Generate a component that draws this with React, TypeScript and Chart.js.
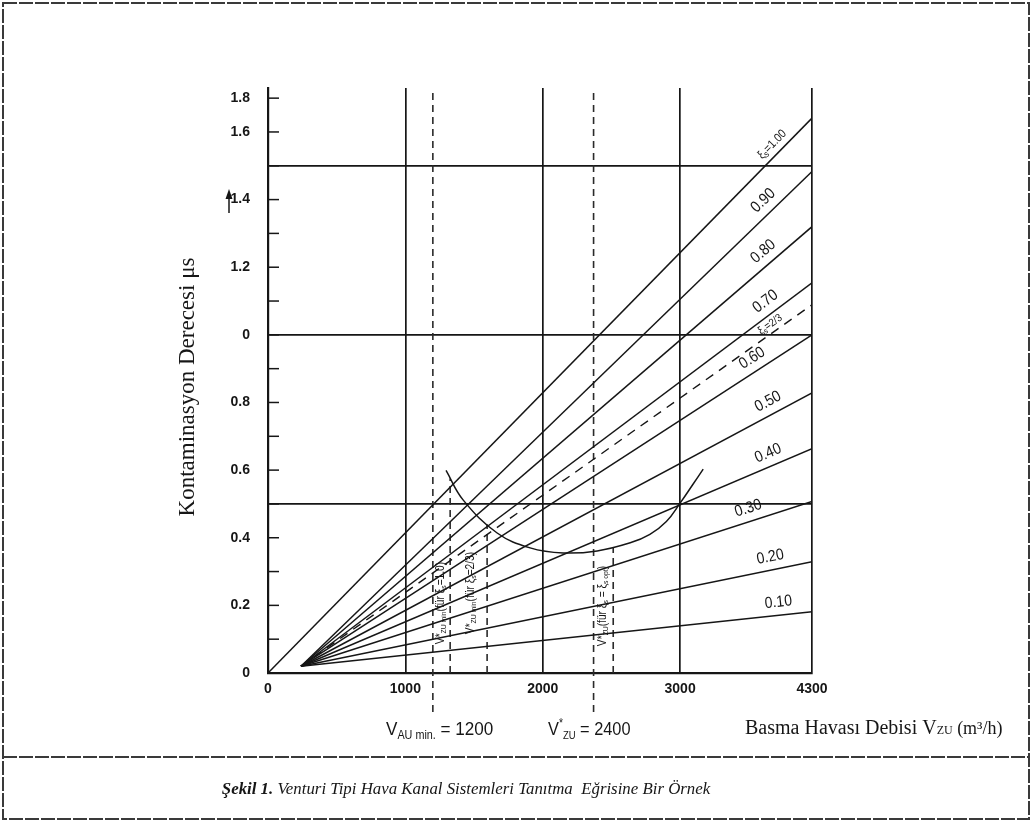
import React, { useEffect, useRef } from "react";
import { Chart, registerables } from "chart.js";
Chart.register(...registerables);

// ---------- data ----------
const X_MAX = 3960;
const Y_MAX = 1.73;

const xTickValues = [0, 1000, 2000, 3000, 3960];
const xTickLabels = ["0", "1000", "2000", "3000", "4300"];
const xGridValues = [1000, 2000, 3000, 3960];

const yTickValues = [0, 0.1, 0.2, 0.3, 0.4, 0.5, 0.6, 0.7, 0.8, 0.9, 1.0, 1.1, 1.2, 1.3, 1.4, 1.5, 1.6, 1.7];
const yTickLabels = ["0", "", "0.2", "", "0.4", "", "0.6", "", "0.8", "", "0", "", "1.2", "", "1.4", "", "1.6", "1.8"];
const yGridValues = [0.5, 1.0, 1.5];

// ξs lines (solid)
const xiNames = ["1.00", "0.90", "0.80", "0.70", "0.60", "0.50", "0.40", "0.30", "0.20", "0.10"];
const lineStartX = [0, 240, 240, 240, 240, 240, 240, 240, 240, 240];
const lineStartY = [0, 0.02, 0.02, 0.02, 0.02, 0.02, 0.02, 0.02, 0.02, 0.02];
const lineEndY = [1.641, 1.483, 1.32, 1.154, 1.0, 0.828, 0.663, 0.507, 0.329, 0.181];
const lineLabelX = [3722, 3671, 3667, 3678, 3576, 3685, 3678, 3525, 3675, 3725];

// ξs = 2/3 (dashed)
const xiOptStart = [240, 0.02];
const xiOptEndY = 1.089;
const xiOptLabelX = 3689;

// optimum curve
const curveX = [1296, 1420, 1668, 1908, 2149, 2396, 2637, 2780, 2900, 3001, 3090, 3168];
const curveY = [0.599, 0.512, 0.414, 0.37, 0.355, 0.361, 0.385, 0.41, 0.448, 0.503, 0.556, 0.603];

// vertical dashed reference lines
const refX = [1200, 2370];
const refBottomY = -0.115;
const shortRefX = [1326, 1595, 2513];
const shortRefTopY = [0.575, 0.44, 0.37];

// ---------- drawing helpers ----------
const SANS = "'Liberation Sans Narrow', 'Arial Narrow', 'Liberation Sans', Arial, sans-serif";
const SERIF = "'Liberation Serif', 'Times New Roman', serif";
const INK = "#161616";

type Part = { t: string; size: number; dy?: number; weight?: string; style?: string; family?: string };

function drawRich(
  ctx: CanvasRenderingContext2D,
  x: number,
  y: number,
  angle: number,
  parts: Part[],
  align: "left" | "center",
  baseline: CanvasTextBaseline,
  family: string,
  hscale = 1
) {
  ctx.save();
  ctx.translate(x, y);
  ctx.rotate(angle);
  ctx.scale(hscale, 1);
  ctx.textBaseline = baseline;
  ctx.textAlign = "left";
  ctx.fillStyle = INK;
  const fontOf = (p: Part) => `${p.style || "normal"} ${p.weight || "normal"} ${p.size}px ${p.family || family}`;
  let w = 0;
  for (const p of parts) {
    ctx.font = fontOf(p);
    w += ctx.measureText(p.t).width;
  }
  let cx = align === "center" ? -w / 2 : 0;
  for (const p of parts) {
    ctx.font = fontOf(p);
    ctx.fillText(p.t, cx, p.dy || 0);
    cx += ctx.measureText(p.t).width;
  }
  ctx.restore();
}

const annotations = {
  id: "annotations",
  afterDraw(chart: any) {
    const ctx: CanvasRenderingContext2D = chart.ctx;
    const xs = chart.scales.x;
    const ys = chart.scales.y;
    const area = chart.chartArea;

    // minor ticks on y axis, pointing inwards
    ctx.save();
    ctx.strokeStyle = INK;
    ctx.lineWidth = 1.5;
    for (const v of yTickValues) {
      if (v === 0) continue;
      const py = ys.getPixelForValue(v);
      ctx.beginPath();
      ctx.moveTo(area.left, py);
      ctx.lineTo(area.left + 11, py);
      ctx.stroke();
    }
    ctx.restore();

    // line labels
    const labelFor = (i: number): Part[] =>
      i === 0
        ? [
            { t: "ξ", size: 12 },
            { t: "s", size: 9, dy: 3 },
            { t: "=" + xiNames[i], size: 12 },
          ]
        : [{ t: xiNames[i], size: 16 }];
    const placeLabel = (x0: number, y0: number, x1: number, y1: number, ax: number, d: number, parts: Part[]) => {
      const p0x = xs.getPixelForValue(x0), p0y = ys.getPixelForValue(y0);
      const p1x = xs.getPixelForValue(x1), p1y = ys.getPixelForValue(y1);
      const a = Math.atan2(p1y - p0y, p1x - p0x);
      const px = xs.getPixelForValue(ax);
      const py = p0y + ((px - p0x) * (p1y - p0y)) / (p1x - p0x);
      const cx = px + d * Math.sin(a);
      const cy = py - d * Math.cos(a);
      drawRich(ctx, cx, cy, a, parts, "center", "middle", SANS, 0.88);
    };
    for (let i = 0; i < xiNames.length; i++) {
      placeLabel(lineStartX[i], lineStartY[i], X_MAX, lineEndY[i], lineLabelX[i], i === 0 ? 10 : 13, labelFor(i));
    }
    placeLabel(xiOptStart[0], xiOptStart[1], X_MAX, xiOptEndY, xiOptLabelX, 8, [
      { t: "ξ", size: 11 },
      { t: "s", size: 8, dy: 3 },
      { t: "=2/3", size: 11 },
    ]);

    // rotated notes at the dashed lines
    const up = -Math.PI / 2;
    drawRich(ctx, 441, 603, up, [
      { t: "V*", size: 12 },
      { t: "ZU min", size: 8, dy: 3 },
      { t: "(für ξ", size: 12 },
      { t: "s", size: 8, dy: 3 },
      { t: "=1,0)", size: 12 },
    ], "center", "middle", SANS, 0.85);
    drawRich(ctx, 471, 593, up, [
      { t: "V*", size: 12 },
      { t: "ZU min", size: 8, dy: 3 },
      { t: "(für ξ", size: 12 },
      { t: "s", size: 8, dy: 3 },
      { t: "=2/3)", size: 12 },
    ], "center", "middle", SANS, 0.85);
    drawRich(ctx, 603, 606, up, [
      { t: "V*", size: 12 },
      { t: "ZU", size: 8, dy: 3 },
      { t: "(für ξ", size: 12 },
      { t: "s", size: 8, dy: 3 },
      { t: " = ξ", size: 12 },
      { t: "s opt", size: 8, dy: 3 },
      { t: ")", size: 12 },
    ], "center", "middle", SANS, 0.85);

    // small arrow next to 1.4
    ctx.save();
    ctx.fillStyle = INK;
    ctx.strokeStyle = INK;
    ctx.lineWidth = 1.5;
    ctx.beginPath();
    ctx.moveTo(229, 213);
    ctx.lineTo(229, 196);
    ctx.stroke();
    ctx.beginPath();
    ctx.moveTo(225.5, 199);
    ctx.lineTo(229, 189);
    ctx.lineTo(232.5, 199);
    ctx.closePath();
    ctx.fill();
    ctx.restore();

    // axis titles
    drawRich(ctx, 188, 387, up, [{ t: "Kontaminasyon Derecesi μs", size: 23 }], "center", "middle", SERIF);
    drawRich(ctx, 745, 734, 0, [
      { t: "Basma Havası Debisi V", size: 20 },
      { t: "ZU", size: 12 },
      { t: " (m³/h)", size: 18 },
    ], "left", "alphabetic", SERIF);
    drawRich(ctx, 386, 735, 0, [
      { t: "V", size: 19 },
      { t: "AU min.", size: 12, dy: 4 },
      { t: " = 1200", size: 19 },
    ], "left", "alphabetic", SANS, 0.9);
    drawRich(ctx, 548, 735, 0, [
      { t: "V", size: 19 },
      { t: "*", size: 12, dy: -8 },
      { t: "ZU", size: 11, dy: 4 },
      { t: " = 2400", size: 19 },
    ], "left", "alphabetic", SANS, 0.86);

    // frame and caption box
    ctx.save();
    ctx.strokeStyle = "#3a3a3a";
    ctx.lineWidth = 2;
    ctx.setLineDash([14, 2]);
    ctx.strokeRect(3, 3, 1026, 816);
    ctx.beginPath();
    ctx.moveTo(3, 757);
    ctx.lineTo(1029, 757);
    ctx.stroke();
    ctx.restore();

    drawRich(ctx, 466, 790, 0, [
      { t: "Şekil 1.", size: 17, weight: "bold", style: "italic" },
      { t: " Venturi Tipi Hava Kanal Sistemleri Tanıtma  Eğrisine Bir Örnek", size: 17, style: "italic" },
    ], "center", "middle", SERIF, 0.99);
  },
};

export default function App() {
  const ref = useRef<HTMLCanvasElement | null>(null);

  useEffect(() => {
    document.body.style.margin = "0";
    document.body.style.overflow = "hidden";
    const canvas = ref.current;
    if (!canvas) return;

    const solid = (x0: number, y0: number, x1: number, y1: number) => ({
      data: [
        { x: x0, y: y0 },
        { x: x1, y: y1 },
      ],
      showLine: true,
      borderColor: INK,
      borderWidth: 1.5,
      pointRadius: 0,
    });

    const datasets: any[] = [];
    for (let i = 0; i < xiNames.length; i++) {
      datasets.push({ label: "ξs=" + xiNames[i], ...solid(lineStartX[i], lineStartY[i], X_MAX, lineEndY[i]) });
    }
    datasets.push({
      label: "ξs=2/3",
      ...solid(xiOptStart[0], xiOptStart[1], X_MAX, xiOptEndY),
      borderDash: [9, 7],
      borderWidth: 1.4,
    });
    datasets.push({
      label: "optimum",
      data: curveX.map((x, i) => ({ x, y: curveY[i] })),
      showLine: true,
      borderColor: INK,
      borderWidth: 1.5,
      pointRadius: 0,
      tension: 0.4,
    });
    refX.forEach((x) =>
      datasets.push({
        label: "ref " + x,
        data: [
          { x, y: refBottomY },
          { x, y: Y_MAX },
        ],
        showLine: true,
        borderColor: "#2a2a2a",
        borderWidth: 1.6,
        borderDash: [7, 5],
        pointRadius: 0,
        clip: false,
      })
    );
    shortRefX.forEach((x, i) =>
      datasets.push({
        label: "ref " + x,
        data: [
          { x, y: 0 },
          { x, y: shortRefTopY[i] },
        ],
        showLine: true,
        borderColor: "#2a2a2a",
        borderWidth: 1.6,
        borderDash: [7, 5],
        pointRadius: 0,
      })
    );

    const near = (arr: number[], v: number) => arr.some((a) => Math.abs(a - v) < 1e-6);

    const chart = new Chart(canvas, {
      type: "scatter",
      data: { datasets },
      options: {
        animation: false,
        responsive: false,
        devicePixelRatio: 1,
        layout: { padding: { left: 0, right: 1032 - 812, top: 88, bottom: 0 } },
        plugins: {
          legend: { display: false },
          tooltip: { enabled: false },
        },
        scales: {
          x: {
            type: "linear",
            min: 0,
            max: X_MAX,
            afterBuildTicks: (s: any) => {
              s.ticks = xTickValues.map((v) => ({ value: v }));
            },
            afterFit: (s: any) => {
              s.height = 150;
            },
            ticks: {
              autoSkip: false,
              maxRotation: 0,
              padding: 8,
              color: INK,
              font: { family: SANS, size: 14, weight: "bold" },
              callback: (_v: any, i: number) => xTickLabels[i],
            },
            grid: {
              drawTicks: false,
              lineWidth: 1.7,
              color: (c: any) => (c.tick && near(xGridValues, c.tick.value) ? INK : "rgba(0,0,0,0)"),
            },
            border: { display: true, color: INK, width: 2.2 },
          },
          y: {
            type: "linear",
            min: 0,
            max: Y_MAX,
            afterBuildTicks: (s: any) => {
              s.ticks = yTickValues.map((v) => ({ value: v }));
            },
            afterFit: (s: any) => {
              s.width = 268;
            },
            ticks: {
              autoSkip: false,
              padding: 18,
              color: INK,
              font: { family: SANS, size: 14, weight: "bold" },
              callback: (_v: any, i: number) => yTickLabels[i],
            },
            grid: {
              drawTicks: false,
              lineWidth: 1.7,
              color: (c: any) => (c.tick && near(yGridValues, c.tick.value) ? INK : "rgba(0,0,0,0)"),
            },
            border: { display: true, color: INK, width: 2.2 },
          },
        },
      },
      plugins: [annotations],
    });

    return () => chart.destroy();
  }, []);

  return (
    <div style={{ width: 1032, height: 823, background: "#fff" }}>
      <canvas ref={ref} width={1032} height={823} style={{ display: "block", width: 1032, height: 823 }} />
    </div>
  );
}
